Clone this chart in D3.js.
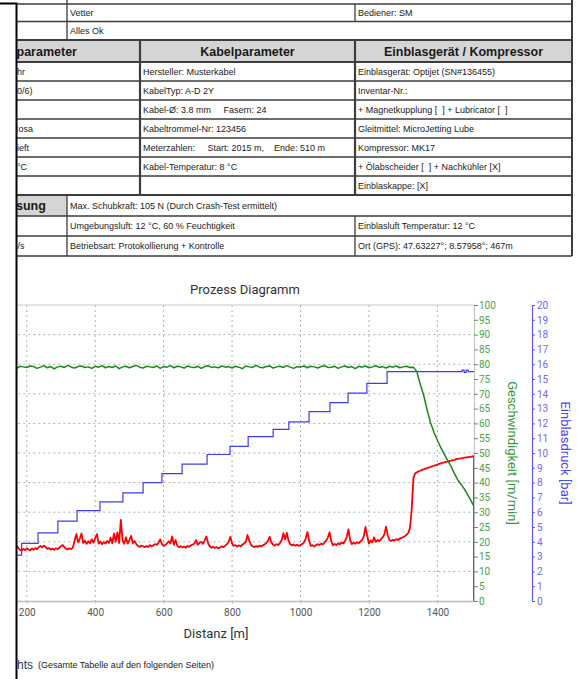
<!DOCTYPE html>
<html><head><meta charset="utf-8">
<script src="https://cdn.jsdelivr.net/npm/d3@7"></script>
<style>
html,body{margin:0;padding:0;background:#fff;}
svg{display:block;}
text{white-space:pre;}
</style></head><body>
<svg id="c" width="577" height="679"></svg>
<script>
// ---------------- data ----------------
const topRowTexts = [["Vetter", "Bediener: SM"], ["Alles Ok"]];
const sectionHeaders = ["parameter", "Kabelparameter", "Einblasgerät / Kompressor"];
const leftColTexts = ["hr", "0/6)", "", "Rosa", "ieft", "°C", ""];
const cableTexts = ["Hersteller: Musterkabel", "KabelTyp: A-D 2Y", "Kabel-Ø: 3.8 mm     Fasern: 24", "Kabeltrommel-Nr: 123456", "Meterzahlen:     Start: 2015 m,    Ende: 510 m", "Kabel-Temperatur: 8 °C", ""];
const blowerTexts = ["Einblasgerät: Optijet (SN#136455)", "Inventar-Nr.:", "+ Magnetkupplung [  ] + Lubricator [  ]", "Gleitmittel: MicroJetting Lube", "Kompressor: MK17", "+ Ölabscheider [  ] + Nachkühler [X]", "Einblaskappe: [X]"];
const bottomLeft = ["sung", "", "m/s"];
const bottomMid = ["Max. Schubkraft: 105 N (Durch Crash-Test ermittelt)", "Umgebungsluft: 12 °C, 60 % Feuchtigkeit", "Betriebsart: Protokollierung + Kontrolle"];
const bottomRight = ["", "Einblasluft Temperatur: 12 °C", "Ort (GPS): 47.63227°; 8.57958°; 467m"];

const chartTitle = "Prozess Diagramm";
const xTitle = "Distanz [m]";
const speedTitle = "Geschwindigkeit [m/min]";
const pressureTitle = "Einblasdruck [bar]";
const footerHead = "hts";
const footerNote = "(Gesamte Tabelle auf den folgenden Seiten)";

const distDomain = [0, 1507];
const distTicks = [200, 400, 600, 800, 1000, 1200, 1400];
const speedTicks = [0, 5, 10, 15, 20, 25, 30, 35, 40, 45, 50, 55, 60, 65, 70, 75, 80, 85, 90, 95, 100];
const speedGrid = [10, 20, 30, 40, 50, 60, 70, 80, 90];
const pressureTicks = [0, 1, 2, 3, 4, 5, 6, 7, 8, 9, 10, 11, 12, 13, 14, 15, 16, 17, 18, 19, 20];

// pressure (bar), step series
const pressureDist = [0, 185, 233, 291, 347, 414, 481, 540, 595, 654, 727, 794, 847, 920, 966, 1025, 1086, 1139, 1194, 1253, 1472, 1478, 1484, 1490, 1507];
const pressureVal = [3.1, 3.9, 4.6, 5.4, 6.1, 6.7, 7.3, 8.0, 8.6, 9.25, 9.9, 10.45, 11.1, 11.6, 12.1, 12.8, 13.4, 14.05, 14.7, 15.5, 15.6, 15.45, 15.6, 15.5, 15.5];

// speed (m/min), sampled every 10 m from 0
const speedStep = 10;
const speedVal = [
79.1,78.8,79.3,78.9,79.4,79.0,78.6,79.2,79.5,78.9,
79.3,78.7,79.1,79.4,78.8,79.6,79.0,78.5,79.3,79.1,
78.9,79.4,79.2,78.6,79.0,79.5,78.8,79.2,78.4,79.1,
79.3,78.9,79.6,79.0,78.7,79.2,79.4,78.9,79.1,78.6,
79.3,79.0,79.5,78.8,79.2,78.9,79.4,78.5,79.1,79.3,
78.8,79.2,79.6,79.0,78.7,79.3,79.1,78.9,79.4,78.6,
79.2,79.0,79.5,78.8,79.3,79.1,78.7,79.4,79.0,78.9,
79.3,78.6,79.2,79.5,78.9,79.1,78.8,79.4,79.0,79.2,
78.7,79.3,79.0,78.5,79.4,79.1,78.9,79.6,79.0,78.8,
79.2,79.4,78.7,79.1,79.3,78.9,79.5,79.0,78.6,79.2,
79.0,79.4,78.8,79.3,79.1,78.7,79.2,79.5,78.9,79.0,
79.3,78.6,79.1,79.4,78.9,79.2,78.5,79.3,79.0,79.4,
78.8,79.1,79.5,78.9,79.2,78.7,79.3,79.0,79.4,78.8,
79.1,79.3,78.9,79.0,
77.5,73.2,69.5,64.5,60.2,57.0,54.3,51.8,49.6,47.5,45.5,43.0,40.8,39.3,37.6,35.6,33.5];
const speedTailDist = [1507];
const speedTailVal = [32.0];

// pushing force trace, sampled every 5 m from 0
const forceStep = 5;
const forceVal = [
17.5,17.8,17.2,17.9,17.4,17.6,18.1,17.3,17.7,17.5,17.9,17.2,17.6,18.0,17.4,17.8,17.3,17.7,17.5,17.9,
17.4,17.8,17.2,17.6,18.0,17.3,17.7,17.5,17.9,17.4,17.8,17.3,17.6,17.9,
18.6,18.0,17.3,17.0,17.6,17.2,17.8,17.4,17.1,17.7,17.3,17.9,17.5,18.2,18.6,18.1,18.7,18.3,17.6,17.9,
17.4,17.7,17.3,17.8,17.5,18.0,18.5,18.9,18.2,17.6,17.4,17.8,17.5,18.1,
20.5,22.6,19.8,21.0,22.8,19.6,20.4,19.3,20.2,19.5,20.8,19.7,21.2,22.6,19.4,20.1,19.2,19.9,19.4,20.3,
19.6,21.4,19.5,22.8,20.0,23.2,19.6,27.4,
20.5,19.3,21.5,19.4,20.6,22.0,19.5,20.3,19.2,18.6,18.3,18.7,
18.5,18.2,18.6,18.3,18.9,18.4,18.8,19.2,19.0,19.6,20.8,19.3,18.6,18.9,19.5,20.2,19.4,21.8,19.0,20.6,
18.7,18.2,18.5,18.1,18.4,18.0,18.6,18.3,18.8,19.1,19.4,20.6,19.0,19.6,20.0,19.3,20.5,21.8,19.5,18.4,
18.0,18.3,17.9,18.2,17.8,18.1,18.5,18.2,18.7,19.2,20.0,21.7,19.4,18.6,18.9,18.4,18.8,18.5,19.0,19.4,
19.9,22.3,20.4,19.0,18.5,18.2,18.6,18.3,18.7,18.4,18.8,19.1,19.6,20.3,21.7,19.8,19.0,18.7,19.2,18.9,
19.6,20.5,22.9,20.8,23.0,20.3,19.2,18.8,19.1,18.7,19.0,18.6,18.9,
19.2,19.8,21.0,23.3,20.5,18.6,18.9,18.4,18.8,19.2,18.9,19.4,19.1,19.7,20.4,21.5,23.2,20.2,18.8,19.3,
18.9,19.5,19.1,19.8,19.4,20.3,21.6,24.2,20.6,19.2,19.7,19.3,19.9,19.5,20.1,20.6,21.8,25.0,22.0,19.4,
20.5,19.8,21.5,20.0,20.6,20.2,20.9,21.5,22.5,25.1,22.2,20.6,20.3,20.7,20.4,20.9,20.6,21.1,21.3,21.6,
21.9,22.4,
23.0,24.7,31.0,41.6,43.1,43.5,43.8,44.0,44.3,44.5,44.7,44.9,45.1,45.3,45.5,45.7,45.9,46.1,46.3,46.5,
46.7,46.8,47.0,47.1,47.3,47.4,47.6,47.7,47.9,48.0,48.1,48.2,48.3,48.4,48.5,48.6,48.7,48.8,48.9];
const forceTailDist = [1507, 1507];
const forceTailVal = [48.9, 0];

// ---------------- drawing ----------------
const svg = d3.select('#c');
const defs = svg.append('defs');
defs.append('clipPath').attr('id', 'tclip').append('rect').attr('x', 17).attr('y', 0).attr('width', 560).attr('height', 679);
defs.append('clipPath').attr('id', 'pclip').append('rect').attr('x', -50).attr('y', 300).attr('width', 524).attr('height', 302);

svg.append('rect').attr('width', 577).attr('height', 679).attr('fill', '#fff');

const SANS = '"Liberation Sans", Arial, sans-serif';
const ROB = 'Roboto, "Liberation Sans", sans-serif';

// ----- table -----
const T = svg.append('g').attr('clip-path', 'url(#tclip)');
const yb = [4, 21.5, 40, 62, 81, 100, 119, 138, 157, 176, 195, 216, 236, 256];
const L = 10, R = 572, c1 = 67, c2 = 140, c3 = 355;
const lineCol = '#3d3d3d';
T.append('rect').attr('x', L).attr('y', yb[2]).attr('width', R - L).attr('height', yb[3] - yb[2]).attr('fill', '#d5d5d5');
T.append('rect').attr('x', L).attr('y', yb[10]).attr('width', c1 - L).attr('height', yb[11] - yb[10]).attr('fill', '#d5d5d5');

function hline(y, w) { T.append('line').attr('x1', L).attr('x2', R).attr('y1', y).attr('y2', y).attr('stroke', lineCol).attr('stroke-width', w); }
function vline(x, y1, y2, w) { T.append('line').attr('x1', x).attr('x2', x).attr('y1', y1).attr('y2', y2).attr('stroke', lineCol).attr('stroke-width', w); }
[0, 1, 4, 5, 6, 7, 8, 9, 11, 12, 13].forEach(i => hline(yb[i], 1.3));
[2, 3, 10].forEach(i => hline(yb[i], 2.2));
vline(c1, 0, yb[2], 1.3);
vline(c3, yb[0], yb[1], 1.3);
vline(c2, yb[2], yb[10], 2.2);
vline(c3, yb[2], yb[10], 2.2);
vline(c1, yb[10], yb[13], 1.3);
vline(c3, yb[11], yb[13], 1.3);
vline(R, 0, yb[13], 2);

function cellText(x, rowIdx, str, opts) {
  opts = opts || {};
  const cy = (yb[rowIdx] + yb[rowIdx + 1]) / 2;
  T.append('text').attr('x', x).attr('y', cy + (opts.bold ? 4.5 : 3.3))
    .attr('text-anchor', opts.anchor || 'start')
    .attr('font-family', SANS).attr('font-size', opts.size || 9)
    .attr('font-weight', opts.bold ? 'bold' : 'normal')
    .attr('fill', '#1a1a1a').text(str);
}
cellText(c1 + 3, 0, topRowTexts[0][0]);
cellText(c3 + 3, 0, topRowTexts[0][1]);
cellText(c1 + 3, 1, topRowTexts[1][0]);
cellText(16.5, 2, sectionHeaders[0], { bold: true, size: 12.5 });
cellText((c2 + c3) / 2, 2, sectionHeaders[1], { bold: true, size: 12.5, anchor: 'middle' });
cellText((c3 + R) / 2, 2, sectionHeaders[2], { bold: true, size: 12.5, anchor: 'middle' });
leftColTexts.forEach((s, i) => cellText(s === 'Rosa' ? 12 : 17, 3 + i, s));
cableTexts.forEach((s, i) => cellText(c2 + 3, 3 + i, s));
blowerTexts.forEach((s, i) => cellText(c3 + 3, 3 + i, s));
cellText(16, 10, bottomLeft[0], { bold: true, size: 12.5 });
cellText(10, 12, bottomLeft[2]);
bottomMid.forEach((s, i) => cellText(c1 + 3, 10 + i, s));
bottomRight.forEach((s, i) => { if (s) cellText(c3 + 3, 10 + i, s); });

// ----- chart -----
const pTop = 305, pBot = 601, pRight = 474;
const x = d3.scaleLinear().domain(distDomain).range([-41.7, pRight]);
const yS = d3.scaleLinear().domain([0, 100]).range([pBot, pTop]);
const yP = d3.scaleLinear().domain([0, 20]).range([pBot, pTop]);
const pLeft = x(distDomain[0]);

const C = svg.append('g');
// grid
C.selectAll('.hg').data(speedGrid).join('line')
  .attr('x1', pLeft).attr('x2', pRight).attr('y1', d => yS(d)).attr('y2', d => yS(d))
  .attr('stroke', '#b0b0b0').attr('stroke-width', 1).attr('stroke-dasharray', '2,3');
C.selectAll('.vg').data(distTicks).join('line')
  .attr('x1', d => x(d)).attr('x2', d => x(d)).attr('y1', pTop).attr('y2', pBot)
  .attr('stroke', '#b0b0b0').attr('stroke-width', 1).attr('stroke-dasharray', '2,3');
// top border
C.append('line').attr('x1', pLeft).attr('x2', pRight).attr('y1', pTop).attr('y2', pTop).attr('stroke', '#c8c8c8').attr('stroke-width', 1.2);

const lines = C.append('g').attr('clip-path', 'url(#pclip)');
const forcePts = forceVal.map((v, i) => [i * forceStep, v]).concat(forceTailDist.map((d, i) => [d, forceTailVal[i]]));
const speedPts = speedVal.map((v, i) => [i * speedStep, v]).concat(speedTailDist.map((d, i) => [d, speedTailVal[i]]));
const pressPts = pressureDist.map((d, i) => [d, pressureVal[i]]);

lines.append('path').datum(pressPts)
  .attr('d', d3.line().x(d => x(d[0])).y(d => yP(d[1])).curve(d3.curveStepAfter))
  .attr('fill', 'none').attr('stroke', '#3c3cf0').attr('stroke-width', 1.2);
lines.append('path').datum(forcePts)
  .attr('d', d3.line().x(d => x(d[0])).y(d => yS(d[1])))
  .attr('fill', 'none').attr('stroke', '#ff0000').attr('stroke-width', 1.8).attr('stroke-linejoin', 'round');
lines.append('path').datum(speedPts)
  .attr('d', d3.line().x(d => x(d[0])).y(d => yS(d[1])))
  .attr('fill', 'none').attr('stroke', '#1c861c').attr('stroke-width', 1.5).attr('stroke-linejoin', 'round');

// x axis
const xa = C.append('g').attr('transform', `translate(0,${pBot})`)
  .call(d3.axisBottom(x).tickValues(distTicks).tickFormat(d3.format('d')).tickSize(3).tickSizeOuter(0));
xa.select('.domain').attr('stroke', '#bdbdbd').attr('stroke-width', 1.5);
xa.selectAll('.tick line').attr('stroke', '#bdbdbd');
xa.selectAll('.tick text').attr('font-family', ROB).attr('font-size', 10).attr('fill', '#555').attr('dy', '0.9em');

// speed axis
const sa = C.append('g').attr('transform', `translate(${pRight},0)`)
  .call(d3.axisRight(yS).tickValues(speedTicks).tickSize(4).tickSizeOuter(0));
sa.select('.domain').attr('stroke', '#bdbdbd').attr('stroke-width', 1.2).attr('stroke-opacity', 0.85);
sa.selectAll('.tick line').attr('stroke', '#4aa34a');
sa.selectAll('.tick text').attr('font-family', ROB).attr('font-size', 10).attr('fill', '#4aa34a').attr('x', 5);

// pressure axis
const pa = C.append('g').attr('transform', `translate(532,0)`)
  .call(d3.axisRight(yP).tickValues(pressureTicks).tickSize(3).tickSizeOuter(3));
pa.select('.domain').attr('stroke', '#5a5aff').attr('stroke-width', 1.2);
pa.selectAll('.tick line').attr('stroke', '#5a5aff');
pa.selectAll('.tick text').attr('font-family', ROB).attr('font-size', 10).attr('fill', '#6a6aff').attr('x', 5);

// titles
C.append('text').attr('x', 245).attr('y', 293.5).attr('text-anchor', 'middle')
  .attr('font-family', ROB).attr('font-size', 13).attr('fill', '#333').text(chartTitle);
C.append('text').attr('x', 216).attr('y', 638).attr('text-anchor', 'middle')
  .attr('font-family', ROB).attr('font-size', 13).attr('fill', '#333').text(xTitle);
C.append('text').attr('transform', `translate(508,${(pTop + pBot) / 2}) rotate(90)`).attr('text-anchor', 'middle')
  .attr('font-family', ROB).attr('font-size', 13).attr('fill', '#3a9a3a').text(speedTitle);
C.append('text').attr('transform', `translate(561,${(pTop + pBot) / 2}) rotate(90)`).attr('text-anchor', 'middle')
  .attr('font-family', ROB).attr('font-size', 13).attr('fill', '#4848f0').text(pressureTitle);

// footer
svg.append('text').attr('x', 17).attr('y', 668.5).attr('font-family', SANS).attr('font-size', 12)
  .attr('fill', '#2a3560').text(footerHead);
svg.append('text').attr('x', 38).attr('y', 668).attr('font-family', SANS).attr('font-size', 9)
  .attr('fill', '#1a1a1a').text(footerNote);

// page frame on the left
svg.append('rect').attr('x', 0).attr('y', 3.5).attr('width', 16).attr('height', 680).attr('fill', '#fff');
svg.append('path').attr('d', 'M0,3.5 H16.5 V679').attr('fill', 'none').attr('stroke', '#000').attr('stroke-width', 2);
</script>
</body></html>
